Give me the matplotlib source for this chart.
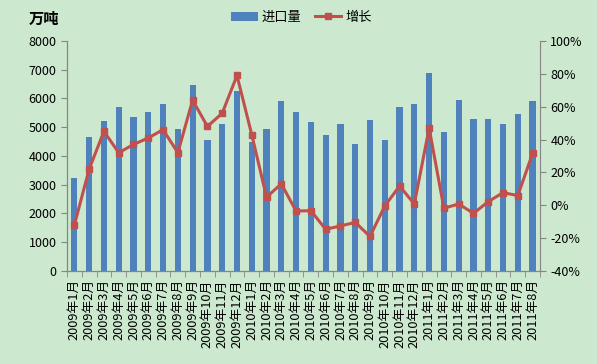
import matplotlib
matplotlib.use('Agg')
import matplotlib.pyplot as plt
from matplotlib.ticker import FuncFormatter
import numpy as np

plt.rcParams['font.family'] = ['Noto Sans CJK SC', 'DejaVu Sans']

months = [f'2009年{m}月' for m in range(1, 13)] + \
         [f'2010年{m}月' for m in range(1, 13)] + \
         [f'2011年{m}月' for m in range(1, 9)]

imports = [3250, 4650, 5200, 5700, 5350, 5520, 5800, 4950, 6480, 4550, 5100, 6250,
           4500, 4950, 5900, 5520, 5180, 4720, 5100, 4430, 5250, 4550, 5720, 5800,
           6900, 4850, 5950, 5270, 5300, 5100, 5450, 5900]

growth = [-12, 22, 45, 32, 37, 41, 46, 32, 64, 48, 56, 79,
          43, 5, 13, -3.5, -3.3, -14.6, -12.6, -10.4, -19, -0.4, 11.7, 0.8,
          47, -1.8, 0.8, -4.9, 2.2, 7.7, 5.9, 31.6]

bg = '#CCE8CF'
bar_color = '#4F81BD'
line_color = '#C0504D'
axis_color = '#868686'

fig = plt.figure(figsize=(5.97, 3.64), dpi=100, facecolor=bg)
ax = fig.add_axes([0.1122, 0.2555, 0.7923, 0.6319])
ax.set_facecolor(bg)

x = np.arange(len(months))
ax.bar(x, imports, width=0.42, color=bar_color, label='进口量', zorder=2)
ax.set_ylim(0, 8000)
ax.set_yticks(range(0, 8001, 1000))
ax.set_xlim(-0.5, len(months) - 0.5)
ax.set_xticks(x)
ax.set_xticklabels(months, rotation=90, fontsize=9.2)
ax.set_xticks(np.arange(-0.5, len(months), 1), minor=True)
ax.tick_params(axis='x', which='major', length=0, pad=6)
ax.tick_params(axis='x', which='minor', length=4, color=axis_color, direction='out')
ax.tick_params(axis='y', length=4, color=axis_color, labelsize=9)

ax2 = ax.twinx()
ax2.plot(x, growth, color=line_color, lw=2.2, marker='s', ms=4.5, label='增长', zorder=3)
ax2.set_ylim(-40, 100)
ax2.set_yticks(range(-40, 101, 20))
ax2.yaxis.set_major_formatter(FuncFormatter(lambda v, p: f'{int(v)}%'))
ax2.tick_params(axis='y', length=4, color=axis_color, labelsize=9)

for a in (ax, ax2):
    a.spines['top'].set_visible(False)
    a.spines['left'].set_color(axis_color)
    a.spines['right'].set_color(axis_color)
    a.spines['bottom'].set_color(axis_color)
ax.spines['right'].set_visible(False)

fig.text(0.048, 0.948, '万吨', fontsize=11, fontweight='bold', ha='left', va='center')

h1, l1 = ax.get_legend_handles_labels()
h2, l2 = ax2.get_legend_handles_labels()
fig.legend(h1 + h2, l1 + l2, loc='center', bbox_to_anchor=(0.505, 0.952), ncol=2,
           frameon=False, fontsize=9.5, handlelength=2.0, columnspacing=1.0,
           handletextpad=0.3)

fig.savefig('out.png', dpi=100, facecolor=bg)
